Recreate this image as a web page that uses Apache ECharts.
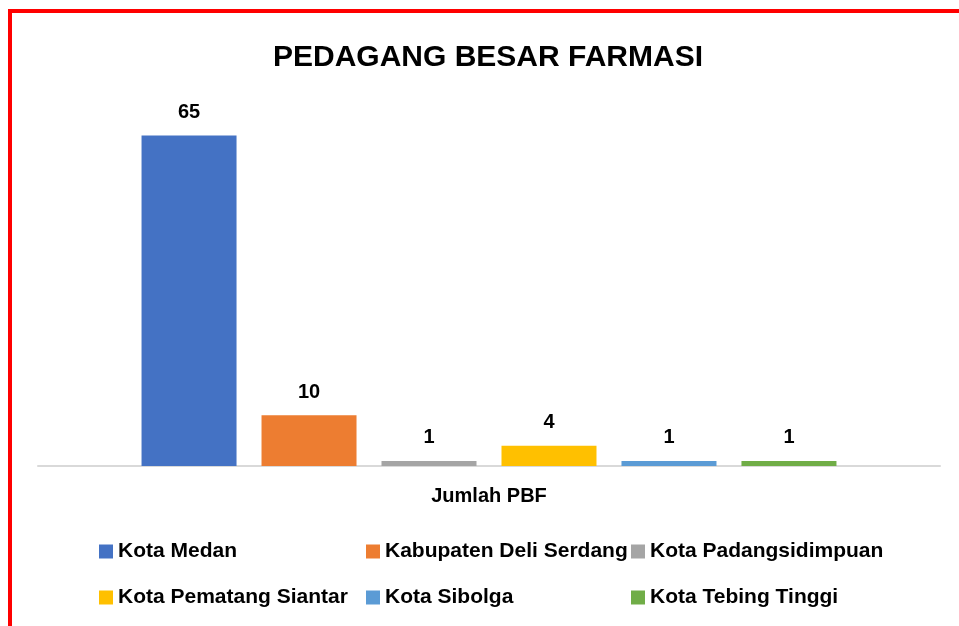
<!DOCTYPE html>
<html>
<head>
<meta charset="utf-8">
<script src="https://cdn.jsdelivr.net/npm/echarts@6/dist/echarts.min.js"></script>
<style>
html,body{margin:0;padding:0;background:#fff;}
#c{width:959px;height:626px;}
</style>
</head>
<body>
<div id="c"></div>
<script>
const categories = ['Jumlah PBF'];
const seriesNames = ['Kota Medan', 'Kabupaten Deli Serdang', 'Kota Padangsidimpuan', 'Kota Pematang Siantar', 'Kota Sibolga', 'Kota Tebing Tinggi'];
const seriesValues = [65, 10, 1, 4, 1, 1];
const seriesColors = ['#4472C4', '#ED7D31', '#A5A5A5', '#FFC000', '#5B9BD5', '#70AD47'];
const titleText = 'PEDAGANG BESAR FARMASI';

const FONT = '"Liberation Sans", Arial, sans-serif';
const chart = echarts.init(document.getElementById('c'), null, {renderer: 'canvas'});

const series = seriesNames.map((name, i) => ({
  name: name,
  type: 'bar',
  data: [seriesValues[i]],
  barWidth: 95,
  barGap: '26.3%',
  itemStyle: {color: seriesColors[i]},
  label: {
    show: true,
    position: 'top',
    distance: 13,
    fontFamily: FONT,
    fontWeight: 'bold',
    fontSize: 20,
    color: '#000'
  }
}));

// legend grid: 3 columns x 2 rows
const legendCols = [99, 366, 631];
const legendRows = [541, 587];
const legends = seriesNames.map((name, i) => ({
  orient: 'horizontal',
  left: legendCols[i % 3],
  top: legendRows[Math.floor(i / 3)],
  padding: 0,
  itemWidth: 14,
  itemHeight: 14,
  icon: 'rect',
  data: [name],
  textStyle: {
    fontFamily: FONT,
    fontWeight: 'bold',
    fontSize: 21,
    color: '#000'
  }
}));

chart.setOption({
  animation: false,
  backgroundColor: '#fff',
  title: {
    text: titleText,
    left: 483,
    top: 38,
    textAlign: 'center',
    textStyle: {fontFamily: FONT, fontWeight: 'bold', fontSize: 30, color: '#000'}
  },
  graphic: [{
    type: 'rect',
    shape: {x: 10, y: 11, width: 1200, height: 1200},
    style: {fill: 'none', stroke: '#FF0000', lineWidth: 4},
    silent: true
  }],
  legend: legends,
  grid: {left: 38, right: 19, top: 110, bottom: 160, containLabel: false},
  xAxis: {
    type: 'category',
    data: categories,
    axisLine: {show: true, lineStyle: {color: '#D9D9D9', width: 2}},
    axisTick: {show: false},
    axisLabel: {fontFamily: FONT, fontWeight: 'bold', fontSize: 20, color: '#000', margin: 20}
  },
  yAxis: {
    type: 'value',
    min: 0,
    max: 70,
    show: false,
    splitLine: {show: false}
  },
  series: series
});
</script>
</body>
</html>
